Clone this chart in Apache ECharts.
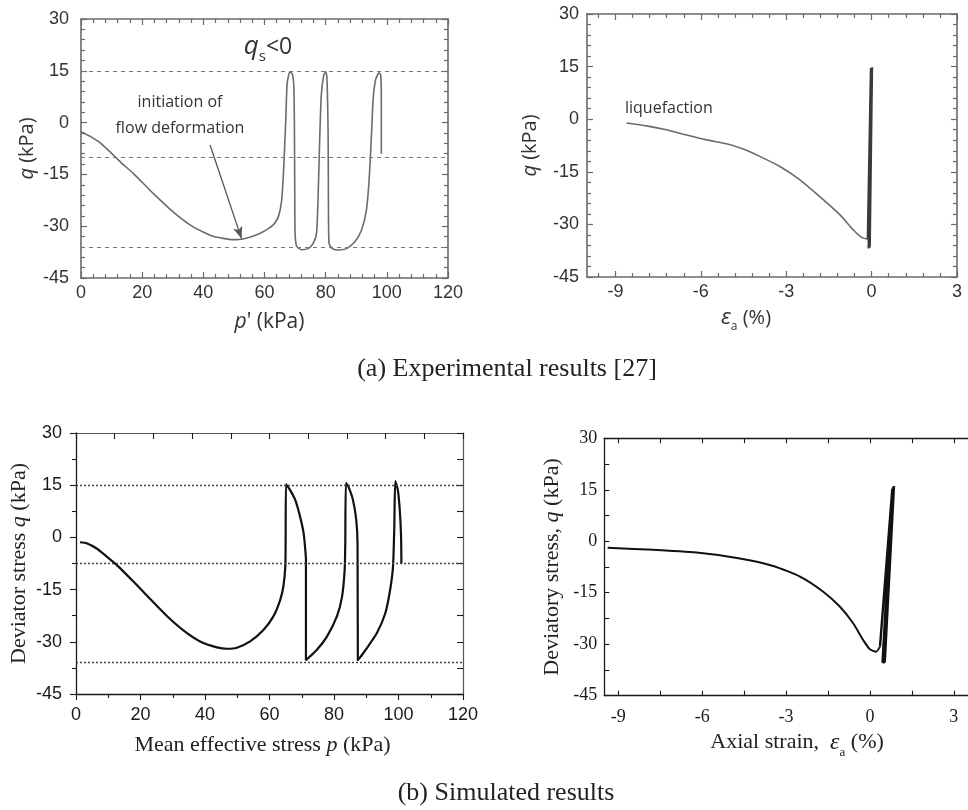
<!DOCTYPE html>
<html>
<head>
<meta charset="utf-8">
<script src="https://cdn.jsdelivr.net/npm/echarts@6/dist/echarts.min.js"></script>
<style>
  html, body { margin: 0; padding: 0; background: #fff; }
  #chart { width: 968px; height: 810px; }
</style>
</head>
<body>
<div id="chart"></div>
<script>
// ---- (a) experimental: effective stress path p'–q ----
const expStressPath = [
  [0.2,-2.7],[3,-4.0],[6.2,-5.8],[9.5,-8.5],[13,-11.5],[17.1,-14.7],[23.6,-20.5],[30.2,-25.9],
  [36.7,-30.2],[43.2,-32.9],[49.8,-33.9],[53,-33.7],[58.5,-32.1],[62.8,-29.7],[64.5,-27.3],
  [65.6,-22.5],[66.3,-12.8],[67,1.7],[67.4,11.3],[68.3,14.7],[69.1,14.1],[69.6,10.4],[69.8,-3.2],
  [69.9,-22.5],[70,-32.1],[70.5,-35.8],[72.1,-36.8],[74.3,-36.5],[75.9,-35],[77,-32.1],[77.5,-22.5],
  [78.1,-3.2],[78.6,8.4],[79.4,13.8],[80,14.7],[80.4,13.3],[80.8,-3.2],[80.9,-22.5],[81.1,-35],
  [82.2,-36.5],[84.1,-36.9],[86.8,-36.5],[89.5,-34.6],[91.7,-31.2],[93.3,-25.4],[94.2,-16.7],
  [95,-3.2],[95.5,6.5],[96.3,12.3],[97.4,14.4],[98,13.8],[98.2,6.5],[98.2,-9]
];
// ---- (a) experimental: axial strain–q ----
const expStrainPath = [
  [-8.61,-1.1],[-7.91,-1.9],[-7.21,-3.0],[-6.5,-4.5],[-5.8,-5.9],[-5.1,-7.0],[-4.51,-8.5],
  [-3.93,-10.6],[-3.22,-13.5],[-2.52,-17.3],[-1.82,-22.1],[-1.11,-27.3],[-0.64,-31.6],
  [-0.35,-33.7],[-0.14,-34.2]
];
const expStrainCycles = [
  [-0.14,-34.2],[-0.03,14.6],[-0.11,-36.9],[0.0,14.5],[-0.08,-36.7],[0.02,14.8],[-0.06,-36.4],[0.01,14.3],[-0.02,-9]
];
// ---- (b) simulated: effective stress path p–q ----
const simStressPath = [
  [1.24,-1.4],[3.3,-1.7],[6.4,-3.2],[9.5,-5.5],[12.6,-7.9],[17.8,-12.7],[23,-17.7],[28.1,-22.5],
  [33.3,-26.7],[38.5,-29.9],[43.7,-31.6],[46.8,-32],[49.9,-31.7],[54,-29.9],[58.1,-26.6],
  [61.2,-22.7],[63.3,-18],[64.3,-14.1],[64.9,-8.4],[65,-1.7],[65.1,15.3],[66.4,13.6],[68,10.7],
  [69.5,5.9],[70.6,1.1],[71.1,-3.6],[71.3,-6.5],[71.3,-35.3],[74.7,-32.3],[77.8,-28.5],
  [80.9,-22.7],[82.5,-17],[83.3,-9.4],[83.5,-1.7],[83.7,15.7],[84.5,14.5],[85.9,10.7],[86.9,5],
  [87.3,-1.7],[87.4,-35.3],[90.2,-31.8],[93.3,-27.5],[95.9,-21.8],[97.4,-15.1],[98.3,-8.4],
  [98.7,3.1],[99,16.2],[99.8,13.6],[100.4,7.8],[100.8,0.2],[100.9,-7.5]
];
// ---- (b) simulated: axial strain–q ----
const simStrainPath = [
  [-9.38,-1.9],[-7.98,-2.4],[-6.2,-3.3],[-4.65,-5.0],[-3.46,-7.2],[-2.5,-10.3],[-1.67,-14.7],
  [-1.07,-19.1],[-0.6,-23.9],[-0.24,-28.8],[0,-31.5],[0.22,-32.2],[0.36,-30.7]
];
const simStrainCycles = [
  [0.36,-30.7],[0.80,15.3],[0.45,-35.4],[0.83,15.8],[0.49,-35.6],[0.86,16.1],[0.53,-35.3],[0.84,15.6]
];

// horizontal reference levels of q
const expRefLevels = [15, -10, -36];
const simRefLevels = [15, -7.5, -36];

// tick labels
const qTicks = [-45, -30, -15, 0, 15, 30];
const pTicks = [0, 20, 40, 60, 80, 100, 120];
const strainTicks = [-9, -6, -3, 0, 3];
const captions = ['(a) Experimental results [27]', '(b) Simulated results'];

const SANS = '"Liberation Sans", Arial, sans-serif';
const OPEN = '"Open Sans", "Liberation Sans", sans-serif';
const SERIF = '"Liberation Serif", "Times New Roman", serif';

function steps(a, b, s) {
  const out = [];
  for (let v = a; v <= b + 1e-9; v += s) out.push(+v.toFixed(4));
  return out;
}
function without(list, drop) {
  return list.filter(v => !drop.some(d => Math.abs(d - v) < 1e-6));
}

const xAxes = [];
const yAxes = [];

function addAxis(list, o) {
  list.push({
    type: 'value',
    gridIndex: o.grid,
    position: o.pos,
    min: o.min,
    max: o.max,
    axisLine: { show: !!o.line, onZero: false, lineStyle: o.line || {} },
    axisTick: o.ticks
      ? { show: true, customValues: o.ticks, inside: !!o.inside, length: o.len, lineStyle: o.tickStyle }
      : { show: false },
    axisLabel: o.labels
      ? Object.assign({ show: true, customValues: o.labels }, o.labelStyle)
      : { show: false },
    splitLine: { show: false },
    minorTick: { show: false },
    minorSplitLine: { show: false },
    name: o.name || '',
    nameLocation: 'middle',
    nameGap: o.nameGap || 0,
    nameTextStyle: o.nameStyle || {},
    silent: true
  });
  return list.length - 1;
}

// one framed panel: main bottom/left axes + mirrored top/right axes
function panel(p) {
  const s = p.style;
  const X = p.x, Y = p.y;
  const xi = addAxis(xAxes, {
    grid: p.grid, pos: 'bottom', min: X.min, max: X.max, line: s.line,
    ticks: X.major, inside: s.inside, len: s.majorLen, tickStyle: s.tick,
    labels: X.labels, labelStyle: X.labelStyle,
    name: X.name, nameGap: X.nameGap, nameStyle: X.nameStyle
  });
  if (X.minor) addAxis(xAxes, { grid: p.grid, pos: 'bottom', min: X.min, max: X.max,
    ticks: X.minor, inside: s.inside, len: s.minorLen, tickStyle: s.tick });
  addAxis(xAxes, { grid: p.grid, pos: 'top', min: X.min, max: X.max, line: s.frame || s.line,
    ticks: X.topMajor, inside: true, len: s.majorLen, tickStyle: s.tick });
  if (X.topMinor) addAxis(xAxes, { grid: p.grid, pos: 'top', min: X.min, max: X.max,
    ticks: X.topMinor, inside: true, len: s.minorLen, tickStyle: s.tick });

  const yi = addAxis(yAxes, {
    grid: p.grid, pos: 'left', min: Y.min, max: Y.max, line: s.line,
    ticks: Y.major, inside: s.inside, len: s.majorLen, tickStyle: s.tick,
    labels: Y.labels, labelStyle: Y.labelStyle,
    name: Y.name, nameGap: Y.nameGap, nameStyle: Y.nameStyle
  });
  if (Y.minor) addAxis(yAxes, { grid: p.grid, pos: 'left', min: Y.min, max: Y.max,
    ticks: Y.minor, inside: s.inside, len: s.minorLen, tickStyle: s.tick });
  if (Y.right !== false) {
    addAxis(yAxes, { grid: p.grid, pos: 'right', min: Y.min, max: Y.max, line: s.frame || s.line,
      ticks: Y.rightMajor, inside: true, len: s.majorLen, tickStyle: s.tick });
    if (Y.rightMinor) addAxis(yAxes, { grid: p.grid, pos: 'right', min: Y.min, max: Y.max,
      ticks: Y.rightMinor, inside: true, len: s.minorLen, tickStyle: s.tick });
  }
  return { xi, yi };
}

const grayStyle = {
  line: { color: '#6a6a6a', width: 1.6 },
  tick: { color: '#6a6a6a', width: 1.2 },
  majorLen: 6, minorLen: 4, inside: true
};
const simStyleB = {
  line: { color: '#1a1a1a', width: 1.3 },
  frame: { color: '#555', width: 1.2 },
  tick: { color: '#1a1a1a', width: 1.1 },
  majorLen: 6, minorLen: 4, inside: false
};
const simStyleC = {
  line: { color: '#1a1a1a', width: 1.3 },
  tick: { color: '#1a1a1a', width: 1.1 },
  majorLen: 5, minorLen: 5, inside: true
};

const italicRich = { i: { fontStyle: 'italic' } };
const epsRich = (size, family) => ({
  e: { fontStyle: 'italic', fontSize: size + 2, fontFamily: family, lineHeight: size + 10 },
  s: { fontSize: Math.round(size * 0.6), fontFamily: family, verticalAlign: 'bottom', lineHeight: size + 10 },
  t: { fontSize: size, fontFamily: family, lineHeight: size + 10 }
});

const qMinor3 = without(steps(-45, 30, 3), qTicks);

// (a) left: p'–q
const A = panel({
  grid: 0, style: grayStyle,
  x: {
    min: 0, max: 120, major: pTicks, labels: pTicks, minor: without(steps(0, 120, 4), pTicks),
    topMajor: pTicks, topMinor: without(steps(0, 120, 4), pTicks),
    labelStyle: { color: '#333', fontSize: 18, fontFamily: SANS, margin: 6 },
    name: "{i|p}' (kPa)", nameGap: 34,
    nameStyle: { color: '#333', fontSize: 21, fontFamily: OPEN, padding: [0, 0, 0, 10], rich: italicRich }
  },
  y: {
    min: -45, max: 30, major: qTicks, labels: qTicks, minor: qMinor3,
    rightMajor: qTicks, rightMinor: qMinor3,
    labelStyle: { color: '#333', fontSize: 18, fontFamily: SANS, margin: 12 },
    name: '{i|q} (kPa)', nameGap: 44,
    nameStyle: { color: '#333', fontSize: 20, fontFamily: OPEN, rich: italicRich }
  }
});

// (a) right: strain–q
const strainMinorA = without(steps(-9.6, 3, 0.6), strainTicks);
const B = panel({
  grid: 1, style: grayStyle,
  x: {
    min: -10, max: 3, major: strainTicks, labels: strainTicks, minor: strainMinorA,
    topMajor: strainTicks, topMinor: strainMinorA,
    labelStyle: { color: '#333', fontSize: 18, fontFamily: SANS, margin: 6 },
    name: '{e|ε}{s|a}{t| (%)}', nameGap: 26,
    nameStyle: { color: '#333', fontSize: 20, fontFamily: OPEN, padding: [0, 52, 0, 0], rich: epsRich(20, OPEN) }
  },
  y: {
    min: -45, max: 30, major: qTicks, labels: qTicks, minor: qMinor3,
    rightMajor: qTicks, rightMinor: qMinor3,
    labelStyle: { color: '#333', fontSize: 18, fontFamily: SANS, margin: 8 },
    name: '{i|q} (kPa)', nameGap: 47,
    nameStyle: { color: '#333', fontSize: 20, fontFamily: OPEN, rich: italicRich }
  }
});

// (b) left: p–q
const C = panel({
  grid: 2, style: simStyleB,
  x: {
    min: 0, max: 120, major: pTicks, labels: pTicks, minor: without(steps(0, 120, 10), pTicks),
    topMajor: steps(0, 120, 12),
    labelStyle: { color: '#1a1a1a', fontSize: 18, fontFamily: SANS, margin: 12 },
    name: 'Mean effective stress {i|p} (kPa)', nameGap: 40,
    nameStyle: { color: '#222', fontSize: 22, fontFamily: SERIF, padding: [0, 14, 0, 0], rich: italicRich }
  },
  y: {
    min: -45, max: 30, major: qTicks, labels: qTicks, minor: without(steps(-45, 30, 7.5), qTicks),
    rightMajor: steps(-45, 30, 7.5),
    labelStyle: { color: '#1a1a1a', fontSize: 18, fontFamily: SANS, margin: 14 },
    name: 'Deviator stress {i|q} (kPa)', nameGap: 46,
    nameStyle: { color: '#222', fontSize: 22, fontFamily: SERIF, rich: italicRich }
  }
});

// (b) right: strain–q
const strainMinorB = without(steps(-7.5, 3, 3), strainTicks);
const D = panel({
  grid: 3, style: simStyleC,
  x: {
    min: -9.5, max: 3.5, major: strainTicks, labels: strainTicks, minor: strainMinorB,
    topMajor: strainTicks, topMinor: strainMinorB,
    labelStyle: { color: '#1a1a1a', fontSize: 18, fontFamily: SERIF, margin: 13 },
    name: 'Axial strain,  {e|ε}{s|a}{t| (%)}', nameGap: 31,
    nameStyle: { color: '#222', fontSize: 22, fontFamily: SERIF, padding: [0, 0, 0, 22], rich: epsRich(22, SERIF) }
  },
  y: {
    min: -45, max: 30, major: qTicks, labels: qTicks, minor: without(steps(-45, 30, 7.5), qTicks),
    right: false,
    labelStyle: { color: '#1a1a1a', fontSize: 18, fontFamily: SERIF, margin: 7 },
    name: 'Deviatory stress, {i|q} (kPa)', nameGap: 41,
    nameStyle: { color: '#222', fontSize: 22, fontFamily: SERIF, rich: italicRich }
  }
});

function curve(ax, data, color, width, extra) {
  return Object.assign({
    type: 'line', xAxisIndex: ax.xi, yAxisIndex: ax.yi, data: data,
    symbol: 'none', showSymbol: false, smooth: 0.2, silent: true,
    lineStyle: { color: color, width: width }
  }, extra || {});
}

function refLines(levels, style) {
  return levels.map(v => ({ yAxis: v, lineStyle: style }));
}

const arrowStyle = { type: 'solid', color: '#555', width: 1.3 };

const option = {
  animation: false,
  backgroundColor: '#fff',
  grid: [
    { left: 81, top: 19, width: 367, height: 259 },
    { left: 587, top: 14, width: 370, height: 263 },
    { left: 76, top: 433, width: 387, height: 261 },
    { left: 604.3, top: 438.3, width: 363.5, height: 257.4 }
  ],
  xAxis: xAxes,
  yAxis: yAxes,
  series: [
    curve(A, expStressPath, '#6b6b6b', 1.6, {
      markLine: {
        silent: true, symbol: 'none', label: { show: false }, animation: false,
        data: refLines(expRefLevels, { type: [4, 4], color: '#777', width: 1.2 }).concat([
          [
            { coord: [42.2, -6.5], symbol: 'none', lineStyle: arrowStyle },
            { coord: [52.5, -33.6], symbol: 'arrow', symbolSize: [7, 12], lineStyle: arrowStyle }
          ]
        ])
      }
    }),
    curve(B, expStrainPath, '#6b6b6b', 1.6),
    curve(B, expStrainCycles, '#3a3a3a', 2.0, { smooth: false }),
    curve(C, simStressPath, '#111', 2.2, {
      markLine: {
        silent: true, symbol: 'none', label: { show: false }, animation: false,
        data: refLines(simRefLevels, { type: [2, 2], color: '#444', width: 1.3 })
      }
    }),
    curve(D, simStrainPath, '#111', 2.0),
    curve(D, simStrainCycles, '#111', 2.4, { smooth: false })
  ],
  graphic: [
    {
      type: 'text', x: 268, y: 47, silent: true,
      style: {
        text: '{q|q}{s|s}{t|<0}', align: 'center', verticalAlign: 'middle', fill: '#333',
        rich: {
          q: { fontSize: 26, fontStyle: 'italic', fontFamily: OPEN, fill: '#333', lineHeight: 34 },
          s: { fontSize: 15, fontFamily: OPEN, fill: '#333', verticalAlign: 'bottom', lineHeight: 34 },
          t: { fontSize: 23, fontFamily: OPEN, fill: '#333', lineHeight: 30 }
        }
      }
    },
    {
      type: 'text', x: 180, y: 115, silent: true,
      style: {
        text: 'initiation of\nflow deformation', align: 'center', verticalAlign: 'middle',
        fontSize: 16, fontFamily: OPEN, fill: '#333', lineHeight: 26
      }
    },
    {
      type: 'text', x: 625, y: 108, silent: true,
      style: {
        text: 'liquefaction', align: 'left', verticalAlign: 'middle',
        fontSize: 16, fontFamily: OPEN, fill: '#333'
      }
    },
    {
      type: 'text', x: 507, y: 369, silent: true,
      style: {
        text: captions[0], align: 'center', verticalAlign: 'middle',
        fontSize: 26, fontFamily: SERIF, fill: '#222'
      }
    },
    {
      type: 'text', x: 506, y: 793, silent: true,
      style: {
        text: captions[1], align: 'center', verticalAlign: 'middle',
        fontSize: 26, fontFamily: SERIF, fill: '#222'
      }
    }
  ]
};

const chart = echarts.init(document.getElementById('chart'), null, { renderer: 'canvas' });
chart.setOption(option);
</script>
</body>
</html>
